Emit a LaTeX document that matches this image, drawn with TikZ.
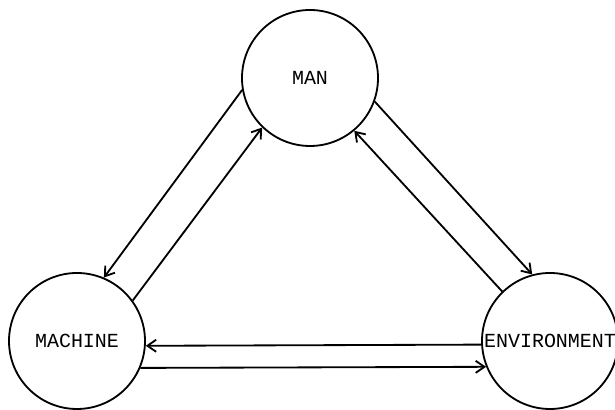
\documentclass[tikz,border=0pt]{standalone}
\usepackage{fontspec}
\newfontfamily\typefont{Liberation Mono}
\usetikzlibrary{arrows.meta}

\begin{document}
\begin{tikzpicture}[>={Straight Barb[length=2.2mm,width=3mm]},line width=1.3pt,
  sys/.style={draw,circle,minimum size=3.4cm,inner sep=0pt,font=\typefont\fontsize{14.2}{16}\selectfont}]
\useasboundingbox (0,0) rectangle (15.375,10.25);
\node[sys] (man) at (7.75,8.3) {MAN};
\node[sys] (mach) at (1.925,1.725) {MACHINE};
\node[sys] (env) at (13.75,1.725) {ENVIRONMENT};
\draw[->] (man.190) -- (mach.67);
\draw[->] (mach.36) -- (man.226);
\draw[->] (man.340) -- (env.105);
\draw[->] (env.134) -- (man.310);
\draw[->] (env.183.4) -- (mach.356.6);
\draw[->] (mach.337.5) -- (env.202.5);
\end{tikzpicture}
\end{document}
